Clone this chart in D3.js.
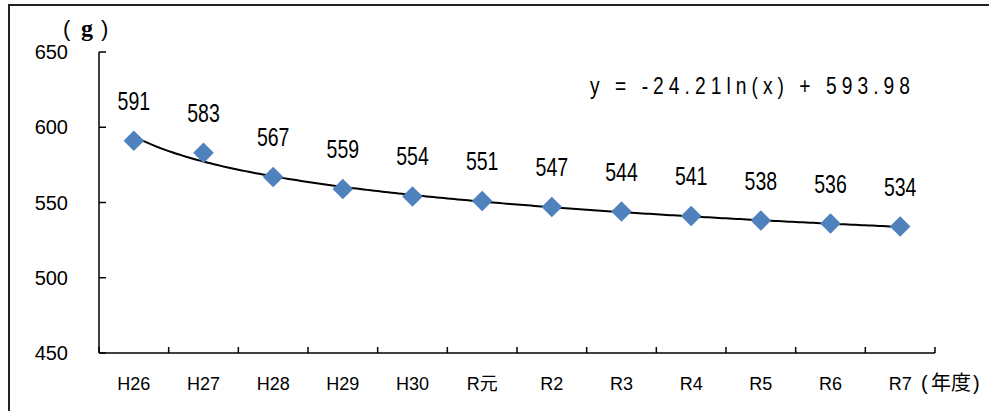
<!DOCTYPE html>
<html><head><meta charset="utf-8">
<script src="https://cdn.jsdelivr.net/npm/d3@7"></script>
<style>body{margin:0;background:#fff}svg{display:block}</style>
</head><body>
<script>
const categories = ["H26","H27","H28","H29","H30","R元","R2","R3","R4","R5","R6","R7"];
const values = [591,583,567,559,554,551,547,544,541,538,536,534];
const yTicks = [450,500,550,600,650];
const trendCoef = [-24.21, 593.98];
const equationText = "y = -24.21ln(x) + 593.98";
const yUnit = "g";
const xUnit = "年度";

(function(){
const W = 989, H = 411;
const svg = d3.select("body").append("svg").attr("width", W).attr("height", H);

// outer frame
svg.append("path").attr("d", `M9,${H+2}V5H${W+2}`).attr("fill","none").attr("stroke","#222").attr("stroke-width",2);

const pL = 99, pR = 935, pT = 52, pB = 353;
const x = d3.scaleBand().domain(categories).range([pL, pR]);
const y = d3.scaleLinear().domain([450,650]).range([pB, pT]);

// y axis
const ya = svg.append("g");
ya.append("line").attr("x1",pL).attr("x2",pL).attr("y1",pT).attr("y2",pB).attr("stroke","#000").attr("stroke-width",1.5);
ya.selectAll("line.t").data(yTicks).join("line").attr("class","t")
  .attr("x1",pL).attr("x2",pL+7).attr("y1",d=>y(d)).attr("y2",d=>y(d)).attr("stroke","#000").attr("stroke-width",1.5);
ya.selectAll("text").data(yTicks).join("text")
  .attr("x",68).attr("y",d=>y(d)).attr("dy","0.36em").attr("text-anchor","end")
  .attr("font-family","'Liberation Sans',sans-serif").attr("font-size",20).attr("fill","#000").text(d=>d);
const gu = svg.append("text").attr("y",36).attr("font-size",22).attr("font-family","'Liberation Sans',sans-serif");
gu.append("tspan").attr("x",63).text("(");
gu.append("tspan").attr("x",81).attr("font-family","'Liberation Serif',serif").attr("font-weight","bold").attr("font-size",24).text(yUnit);
gu.append("tspan").attr("x",101).text(")");

// x axis
const xa = svg.append("g");
xa.append("line").attr("x1",pL).attr("x2",pR).attr("y1",pB).attr("y2",pB).attr("stroke","#000").attr("stroke-width",1.5);
const tickXs = categories.map(c=>x(c)).concat([pR]);
xa.selectAll("line.t").data(tickXs).join("line").attr("class","t")
  .attr("x1",d=>d).attr("x2",d=>d).attr("y1",pB).attr("y2",pB-6).attr("stroke","#000").attr("stroke-width",1.5);
xa.selectAll("text").data(categories).join("text")
  .attr("x",d=>x(d)+x.bandwidth()/2).attr("y",390).attr("text-anchor","middle")
  .attr("font-family","'Liberation Sans','Noto Sans CJK JP',sans-serif").attr("font-size",18).attr("fill","#000").text(d=>d);
const xu = svg.append("text").attr("y",390).attr("font-size",20).attr("font-family","'Liberation Sans',sans-serif");
xu.append("tspan").attr("x",921).text("(");
xu.append("tspan").attr("x",931).attr("font-family","'Noto Sans CJK JP',sans-serif").attr("font-size",20).text(xUnit);
xu.append("tspan").attr("x",973).text(")");

// trendline
const n = categories.length;
const xs = d3.range(1, n+0.001, 0.05);
const xi = i => x(categories[0]) + x.bandwidth()/2 + (i-1)*x.step();
const line = d3.line().x(d=>xi(d)).y(d=>y(trendCoef[0]*Math.log(d)+trendCoef[1]));
svg.append("path").attr("d", line(xs)).attr("fill","none").attr("stroke","#000").attr("stroke-width",2);

// points
const sym = d3.symbol().type(d3.symbolDiamond2).size(270);
svg.selectAll("path.pt").data(values).join("path").attr("class","pt")
  .attr("transform",(d,i)=>`translate(${x(categories[i])+x.bandwidth()/2},${y(d)})`)
  .attr("d", sym).attr("fill","#4F81BD");

// data labels
svg.selectAll("text.dl").data(values).join("text").attr("class","dl")
  .attr("transform",(d,i)=>`translate(${x(categories[i])+x.bandwidth()/2},${y(d)-31}) scale(0.78,1)`)
  .attr("text-anchor","middle")
  .attr("font-family","'Liberation Sans',sans-serif")
  .attr("font-size",25).attr("fill","#000").text(d=>d);

// equation
svg.append("text").attr("transform","translate(590,94) scale(0.8,1)")
  .attr("font-family","'Liberation Sans',sans-serif")
  .attr("font-size",24).attr("textLength",400).attr("lengthAdjust","spacing").text(equationText);
})();
</script>
</body></html>
